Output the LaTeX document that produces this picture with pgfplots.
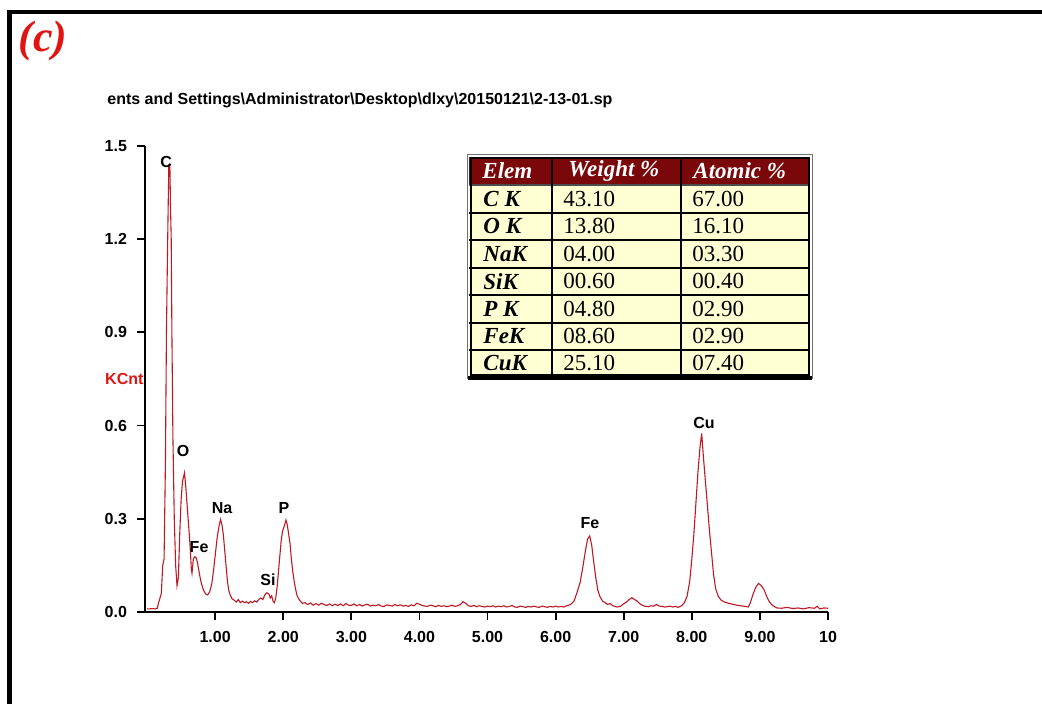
\documentclass[border=0pt]{standalone}
\usepackage{fontspec}
\setmainfont{Liberation Sans}
\newfontfamily\serifrm{Liberation Serif}
\usepackage{pgfplots}
\pgfplotsset{compat=1.18}
\usepackage{pgfplotstable}

\definecolor{spec}{RGB}{190,25,35}
\definecolor{hdr}{RGB}{122,8,10}
\definecolor{cell}{RGB}{255,255,212}
\definecolor{lblred}{RGB}{225,20,20}

% EDS spectrum: energy (keV) vs counts (KCnt)
\pgfplotstableread{
x y
0.00 0.010
0.04 0.010
0.08 0.011
0.12 0.010
0.15 0.012
0.17 0.030
0.19 0.045
0.21 0.060
0.23 0.150
0.25 0.170
0.27 0.480
0.285 0.900
0.30 1.150
0.31 1.300
0.32 1.440
0.335 1.440
0.345 1.300
0.355 1.200
0.365 0.900
0.38 0.560
0.40 0.300
0.42 0.150
0.44 0.085
0.46 0.110
0.48 0.250
0.50 0.360
0.52 0.420
0.55 0.448
0.57 0.400
0.59 0.340
0.61 0.280
0.63 0.220
0.65 0.140
0.66 0.125
0.68 0.170
0.70 0.178
0.72 0.175
0.74 0.160
0.76 0.135
0.78 0.110
0.80 0.090
0.83 0.070
0.86 0.058
0.89 0.055
0.92 0.065
0.95 0.090
0.98 0.140
1.00 0.180
1.03 0.240
1.06 0.280
1.08 0.298
1.10 0.280
1.12 0.250
1.14 0.200
1.16 0.150
1.18 0.100
1.20 0.070
1.22 0.055
1.25 0.042
1.28 0.038
1.31 0.032
1.34 0.040
1.37 0.030
1.40 0.035
1.43 0.030
1.46 0.033
1.49 0.028
1.52 0.034
1.55 0.030
1.58 0.036
1.61 0.032
1.64 0.040
1.67 0.045
1.70 0.040
1.73 0.055
1.76 0.062
1.79 0.058
1.81 0.045
1.83 0.052
1.85 0.035
1.87 0.030
1.89 0.045
1.91 0.080
1.93 0.130
1.95 0.180
1.97 0.230
1.99 0.260
2.02 0.280
2.04 0.296
2.06 0.280
2.08 0.250
2.10 0.220
2.12 0.170
2.14 0.130
2.16 0.100
2.18 0.075
2.20 0.055
2.22 0.045
2.25 0.035
2.28 0.028
2.32 0.030
2.36 0.024
2.40 0.029
2.44 0.022
2.48 0.027
2.52 0.022
2.56 0.028
2.60 0.024
2.64 0.021
2.68 0.026
2.72 0.020
2.76 0.025
2.80 0.021
2.84 0.026
2.88 0.020
2.92 0.027
2.96 0.022
3.00 0.021
3.04 0.026
3.08 0.020
3.12 0.024
3.16 0.019
3.20 0.023
3.24 0.025
3.28 0.019
3.32 0.022
3.36 0.020
3.40 0.024
3.44 0.019
3.48 0.018
3.52 0.023
3.56 0.021
3.60 0.019
3.64 0.024
3.68 0.020
3.72 0.023
3.76 0.019
3.80 0.021
3.84 0.018
3.88 0.023
3.92 0.020
3.96 0.028
4.00 0.025
4.04 0.021
4.08 0.019
4.12 0.018
4.16 0.022
4.20 0.020
4.24 0.017
4.28 0.021
4.32 0.018
4.36 0.020
4.40 0.017
4.44 0.019
4.48 0.022
4.52 0.018
4.56 0.020
4.60 0.024
4.64 0.033
4.68 0.028
4.72 0.020
4.76 0.018
4.80 0.021
4.84 0.017
4.88 0.020
4.92 0.018
4.96 0.016
5.00 0.019
5.04 0.017
5.08 0.020
5.12 0.016
5.16 0.019
5.20 0.017
5.24 0.020
5.28 0.016
5.32 0.018
5.36 0.021
5.40 0.016
5.44 0.015
5.48 0.019
5.52 0.017
5.56 0.015
5.60 0.018
5.64 0.016
5.68 0.019
5.72 0.016
5.76 0.015
5.80 0.019
5.84 0.017
5.88 0.015
5.92 0.018
5.96 0.016
6.00 0.019
6.04 0.016
6.08 0.018
6.12 0.016
6.16 0.020
6.22 0.024
6.27 0.035
6.31 0.060
6.36 0.095
6.40 0.145
6.44 0.200
6.47 0.235
6.50 0.245
6.53 0.215
6.56 0.160
6.59 0.110
6.62 0.070
6.65 0.050
6.69 0.035
6.73 0.030
6.76 0.024
6.80 0.027
6.84 0.020
6.87 0.018
6.90 0.016
6.95 0.018
6.99 0.025
7.04 0.032
7.08 0.040
7.12 0.046
7.16 0.040
7.20 0.035
7.24 0.026
7.28 0.021
7.32 0.018
7.36 0.017
7.40 0.020
7.44 0.019
7.48 0.024
7.52 0.019
7.56 0.018
7.60 0.016
7.64 0.017
7.68 0.019
7.72 0.016
7.76 0.018
7.80 0.015
7.85 0.020
7.89 0.030
7.93 0.050
7.97 0.100
8.00 0.170
8.03 0.250
8.06 0.350
8.09 0.450
8.12 0.530
8.145 0.575
8.17 0.500
8.20 0.420
8.23 0.340
8.26 0.260
8.29 0.190
8.32 0.120
8.35 0.075
8.39 0.050
8.43 0.038
8.48 0.032
8.54 0.028
8.60 0.025
8.66 0.022
8.72 0.020
8.78 0.018
8.83 0.016
8.86 0.030
8.90 0.058
8.94 0.080
8.98 0.092
9.02 0.085
9.06 0.072
9.10 0.050
9.14 0.032
9.19 0.020
9.25 0.013
9.32 0.012
9.40 0.015
9.48 0.011
9.56 0.013
9.64 0.010
9.72 0.014
9.80 0.012
9.84 0.018
9.88 0.010
9.94 0.013
10.00 0.012
}\spectrum

\begin{document}
\begin{tikzpicture}[x=0.5pt,y=0.5pt]
\path[use as bounding box] (0,0) rectangle (1042,704);
% panel frame
\draw[line width=2.25pt, line join=miter] (9.7,0) -- (9.7,692) -- (1042,692);
\node[anchor=base west, text=lblred, inner sep=0pt,
      font=\serifrm\bfseries\itshape\fontsize{22}{24}\selectfont] at (18,652) {(c)};
\node[anchor=base west, inner sep=0pt, font=\bfseries\fontsize{8}{9}\selectfont]
  at (107,599) {ents and Settings\textbackslash Administrator\textbackslash Desktop\textbackslash dlxy\textbackslash 20150121\textbackslash 2-13-01.sp};

\begin{axis}[
  at={(72.5pt,46pt)}, anchor=south west,
  scale only axis, width=341.5pt, height=233pt,
  xmin=-0.03, xmax=10, ymin=0, ymax=1.5,
  axis x line*=bottom, axis y line*=left,
  axis line style={line width=0.9pt, black},
  tick style={line width=0.9pt, black},
  tick align=outside, major tick length=4pt,
  xtick={1,2,3,4,5,6,7,8,9,10},
  xticklabels={1.00,2.00,3.00,4.00,5.00,6.00,7.00,8.00,9.00,10},
  ytick={0,0.3,0.6,0.9,1.2,1.5},
  /pgf/number format/assume math mode=true,
  yticklabel style={/pgf/number format/fixed, /pgf/number format/fixed zerofill,
                    /pgf/number format/precision=1, xshift=-1.5pt},
  tick label style={font=\bfseries\fontsize{8}{9}\selectfont},
  xticklabel style={yshift=-2pt},
  clip=false,
]
\addplot[spec, line width=0.55pt, no markers] table[x=x, y=y] {\spectrum};

\begin{scope}[every node/.style={font=\bfseries\fontsize{8}{9}\selectfont, inner sep=0pt}]
\node at (axis cs:0.28,1.448) {C};
\node at (axis cs:0.529,0.518) {O};
\node at (axis cs:0.764,0.209) {Fe};
\node at (axis cs:1.101,0.335) {Na};
\node at (axis cs:1.777,0.103) {Si};
\node at (axis cs:2.012,0.335) {P};
\node at (axis cs:6.505,0.286) {Fe};
\node at (axis cs:8.179,0.608) {Cu};
\end{scope}
\node[anchor=west, inner sep=0pt, text=lblred, font=\bfseries\fontsize{8}{9}\selectfont]
  at (axis cs:-0.62,0.75) {KCnt};
\end{axis}

% composition table
\fill[cell] (469,327) rectangle (810,519);
\fill[hdr] (469,519) rectangle (810,547);
\foreach \yy in {491,464,436,409,381,354}
  \draw[line width=0.7pt] (469,\yy) -- (810,\yy);
\draw[line width=0.7pt, black!70] (469,519) -- (810,519);
\foreach \xx in {552,681}
  \draw[line width=0.7pt] (\xx,327) -- (\xx,547);
\draw[line width=0.5pt, black!55] (467,325) rectangle (812,549);
\draw[line width=1pt] (470.5,328.5) rectangle (808.5,545.5);
\draw[line width=1.6pt] (468,326) -- (812,326);

\begin{scope}[every node/.style={anchor=west, inner sep=0pt, font=\serifrm\fontsize{11.5}{13}\selectfont}]
\node[text=white, font=\serifrm\bfseries\itshape\fontsize{11.5}{13}\selectfont] at (482,533) {Elem};
\node[text=white, font=\serifrm\bfseries\itshape\fontsize{11.5}{13}\selectfont] at (568,533) {Weight \%};
\node[text=white, font=\serifrm\bfseries\itshape\fontsize{11.5}{13}\selectfont] at (693,533) {Atomic \%};
\foreach \yy/\el/\w/\a in {505/C K/43.10/67.00, 477.5/O K/13.80/16.10, 450/NaK/04.00/03.30,
    422.5/SiK/00.60/00.40, 395/P K/04.80/02.90, 367.5/FeK/08.60/02.90, 340.5/CuK/25.10/07.40}{
  \node[font=\serifrm\bfseries\itshape\fontsize{11.5}{13}\selectfont] at (483,\yy) {\el};
  \node at (563,\yy) {\w};
  \node at (692,\yy) {\a};
}
\end{scope}
\end{tikzpicture}
\end{document}
